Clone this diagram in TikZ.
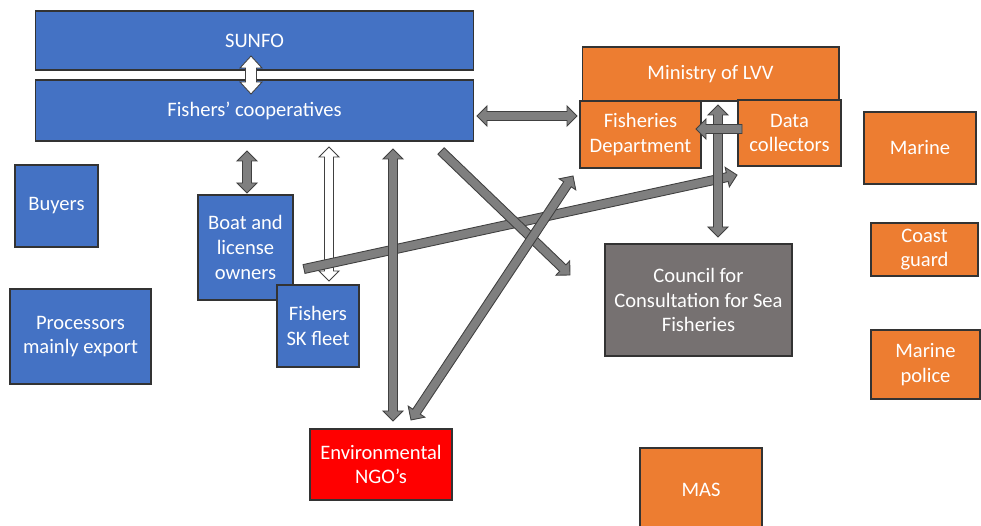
\documentclass[tikz,border=0pt]{standalone}
\usepackage{fontspec}
\setmainfont{Carlito}
\usepackage{tkz-euclide}
\usetikzlibrary{calc}

\definecolor{boxblue}{HTML}{4472C4}
\definecolor{boxorange}{HTML}{ED7D31}
\definecolor{boxgray}{HTML}{767171}
\definecolor{boxred}{HTML}{FF0000}
\definecolor{arrowgray}{HTML}{7F7F7F}

\tikzset{
  actor/.style={draw=black!80, line width=0.6pt, text=white, align=center,
    inner sep=0pt, font=\fontsize{11.7}{14}\selectfont},
  bluebox/.style={actor, fill=boxblue},
  orangebox/.style={actor, fill=boxorange},
  councilbox/.style={actor, fill=boxgray},
  ngobox/.style={actor, fill=boxred}
}

% dimensoes das setas em bloco (meia largura do corpo, meia largura da ponta, comprimento da ponta)
\newcommand{\arrowshaft}{0.09cm}
\newcommand{\arrowhw}{0.2cm}
\newcommand{\arrowlen}{0.2cm}

% seta em bloco com duas pontas: \dblarrow[cor]{inicio}{fim}
\newcommand{\dblarrow}[3][arrowgray]{%
  \filldraw[fill=#1, draw=black!75, line width=0.5pt]
    (#2)
    -- ($($(#2)!\arrowlen!(#3)$)!\arrowhw!90:(#3)$)
    -- ($($(#2)!\arrowlen!(#3)$)!\arrowshaft!90:(#3)$)
    -- ($($(#3)!\arrowlen!(#2)$)!\arrowshaft!90:(#3)$)
    -- ($($(#3)!\arrowlen!(#2)$)!\arrowhw!90:(#3)$)
    -- (#3)
    -- ($($(#3)!\arrowlen!(#2)$)!\arrowhw!-90:(#3)$)
    -- ($($(#3)!\arrowlen!(#2)$)!\arrowshaft!-90:(#3)$)
    -- ($($(#2)!\arrowlen!(#3)$)!\arrowshaft!-90:(#3)$)
    -- ($($(#2)!\arrowlen!(#3)$)!\arrowhw!-90:(#3)$)
    -- cycle;}

% seta em bloco com uma ponta: \onearrow[cor]{inicio}{fim}
\newcommand{\onearrow}[3][arrowgray]{%
  \filldraw[fill=#1, draw=black!75, line width=0.5pt]
    ($(#2)!\arrowshaft!90:(#3)$)
    -- ($($(#3)!\arrowlen!(#2)$)!\arrowshaft!90:(#3)$)
    -- ($($(#3)!\arrowlen!(#2)$)!\arrowhw!90:(#3)$)
    -- (#3)
    -- ($($(#3)!\arrowlen!(#2)$)!\arrowhw!-90:(#3)$)
    -- ($($(#3)!\arrowlen!(#2)$)!\arrowshaft!-90:(#3)$)
    -- ($(#2)!\arrowshaft!-90:(#3)$)
    -- cycle;}

\begin{document}
\begin{tikzpicture}[x=0.02cm, y=-0.02cm]
\useasboundingbox (0,0) rectangle (981,526);

%Pontas das setas (x/y/NomedoPonto), em pixels da figura
\tkzDefPoints{
251/56/su1, 251/94/su2,
477/116/cf1, 577/116/cf2,
247/151/cb1, 247/193/cb2,
329/147/fw1, 329/281/fw2,
393/149/cn1, 393/421/cn2,
441/151/cc1, 570/275/cc2,
411/420/nd1, 573/176/nd2,
304/269/bd1, 737/175/bd2,
718/105/mc1, 718/237/mc2,
742/129/df1, 696/129/df2}

%Atores do lado dos pescadores (azul)
%---------------------------------------------------
\node[bluebox, minimum width=8.78cm, minimum height=1.18cm] (sunfo) at (254.5,40.5) {SUNFO};
\node[bluebox, minimum width=8.78cm, minimum height=1.22cm] (coop) at (254.5,110.5) {Fishers’ cooperatives};
\node[bluebox, minimum width=1.66cm, minimum height=1.64cm] (buyers) at (56.5,206) {Buyers};
\node[bluebox, minimum width=2.82cm, minimum height=1.9cm] (processors) at (80.5,336.5) {Processors\\mainly export};
\node[bluebox, minimum width=1.9cm, minimum height=2.1cm] (boat) at (245.5,247.5) {Boat and\\license\\owners};
\node[bluebox, minimum width=1.64cm, minimum height=1.64cm] (fleet) at (318,326) {Fishers\\SK fleet};
%---------------------------------------------------

%ONG ambiental (vermelho)
\node[ngobox, minimum width=2.84cm, minimum height=1.42cm] (ngo) at (381,464.5) {Environmental\\NGO’s};

%Governo (laranja) e conselho (cinza)
%---------------------------------------------------
\node[orangebox, minimum width=5.14cm, minimum height=1.08cm] (ministry) at (710.5,74) {Ministry of LVV};
\node[orangebox, minimum width=2.42cm, minimum height=1.34cm] (fishdep) at (640.5,134.5) {Fisheries\\Department};
\node[orangebox, minimum width=2.06cm, minimum height=1.32cm] (datacol) at (789.5,133) {Data\\collectors};
\node[orangebox, minimum width=2.24cm, minimum height=1.44cm] (marine) at (920,148) {Marine};
\node[orangebox, minimum width=2.14cm, minimum height=1.06cm] (coast) at (924.5,249.5) {Coast\\guard};
\node[orangebox, minimum width=2.18cm, minimum height=1.38cm] (police) at (925.5,364.5) {Marine\\police};
\node[orangebox, minimum width=2.44cm, minimum height=1.68cm] (mas) at (701,490) {MAS};
\node[councilbox, minimum width=3.74cm, minimum height=2.24cm] (council) at (698.5,300) {Council for\\Consultation for Sea\\Fisheries};
%---------------------------------------------------

%Setas brancas
%---------------------------------------------------
\begin{scope}
\renewcommand{\arrowshaft}{0.11cm}
\renewcommand{\arrowhw}{0.22cm}
\renewcommand{\arrowlen}{0.24cm}
\dblarrow[white]{su1}{su2}
\end{scope}
\dblarrow[white]{fw1}{fw2}
%---------------------------------------------------

%Setas cinzas
%---------------------------------------------------
\dblarrow{cf1}{cf2}
\dblarrow{cb1}{cb2}
\onearrow{bd1}{bd2}
\dblarrow{cn1}{cn2}
\onearrow{cc1}{cc2}
\dblarrow{nd1}{nd2}
\dblarrow{mc1}{mc2}
\onearrow{df1}{df2}
%---------------------------------------------------

\end{tikzpicture}
\end{document}
